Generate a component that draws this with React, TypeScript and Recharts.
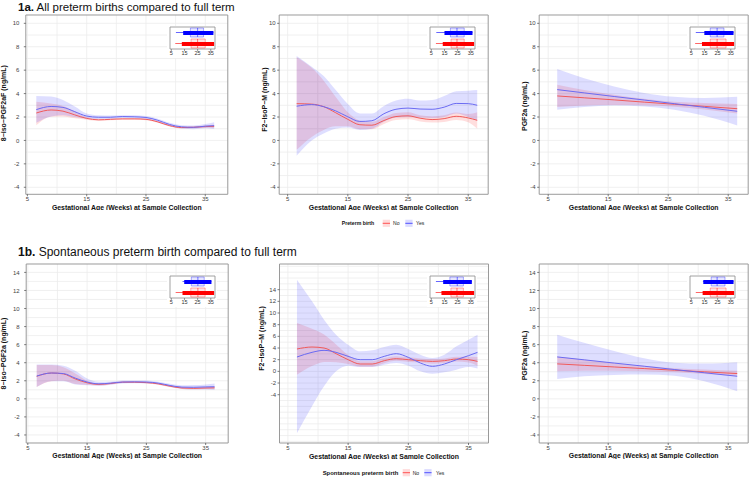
import React from 'react';
import { ComposedChart, Area, Line, XAxis, YAxis, CartesianGrid, ReferenceArea, Bar, Cell } from 'recharts';

const FONT = '"Liberation Sans", Arial, Helvetica, sans-serif';
const RED = '#f05a5a';
const BLUE = '#6a6af2';
const RED_FILL = '#ff0000';
const BLUE_FILL = '#0000ff';
const BAND_OP = 0.13;
const X_TITLE = 'Gestational Age (Weeks) at Sample Collection';

// ---------- data ----------
const agesSmooth = [6.5, 9, 11, 13, 15, 17, 19, 21, 23, 25, 27, 29, 31, 33, 35, 36.5];
const agesLinear = [6.5, 11, 16, 21, 26, 31, 36.5];

// 1a: 8-iso-PGF2aF
const p1NoMean = [2.34, 2.6, 2.5, 2.18, 1.88, 1.76, 1.8, 1.84, 1.84, 1.8, 1.58, 1.26, 1.1, 1.12, 1.18, 1.2];
const p1NoLo = [1.3, 2.02, 2.05, 1.9, 1.76, 1.66, 1.72, 1.76, 1.76, 1.72, 1.5, 1.18, 1.02, 1.04, 1.08, 1.06];
const p1NoHi = [3.3, 3.15, 2.95, 2.5, 2.0, 1.86, 1.88, 1.92, 1.92, 1.88, 1.66, 1.34, 1.18, 1.2, 1.28, 1.34];
const p1YesMean = [2.63, 2.9, 2.82, 2.45, 2.08, 1.98, 1.98, 2.04, 2.02, 1.96, 1.72, 1.36, 1.16, 1.12, 1.22, 1.26];
const p1YesLo = [1.5, 2.05, 2.15, 2.0, 1.86, 1.82, 1.84, 1.92, 1.9, 1.84, 1.58, 1.22, 1.02, 0.96, 1.04, 0.98];
const p1YesHi = [3.8, 3.75, 3.45, 2.9, 2.3, 2.14, 2.12, 2.16, 2.14, 2.08, 1.86, 1.5, 1.3, 1.28, 1.4, 1.55];

// 1a: F2-IsoP-M
const p2NoMean = [3.14, 3.1, 2.88, 2.36, 1.8, 1.34, 1.3, 1.7, 2.04, 2.1, 1.9, 1.78, 1.86, 2.06, 1.92, 1.72];
const p2NoLo = [-0.8, 0.3, 0.9, 1.2, 1.2, 0.95, 0.95, 1.4, 1.75, 1.8, 1.62, 1.52, 1.58, 1.75, 1.55, 1.0];
const p2NoHi = [7.1, 6.2, 5.1, 3.7, 2.4, 1.7, 1.6, 2.0, 2.35, 2.4, 2.15, 2.05, 2.15, 2.38, 2.25, 2.4];
const p2YesMean = [2.92, 3.06, 2.88, 2.52, 2.02, 1.62, 1.68, 2.28, 2.66, 2.76, 2.68, 2.66, 2.84, 3.16, 3.14, 3.0];
const p2YesLo = [-1.3, 0.0, 0.6, 1.0, 1.1, 0.9, 1.0, 1.6, 1.95, 2.0, 1.95, 1.9, 2.0, 2.3, 2.0, 1.7];
const p2YesHi = [7.2, 6.3, 5.5, 4.3, 3.1, 2.3, 2.3, 2.95, 3.4, 3.55, 3.4, 3.45, 3.8, 4.2, 4.25, 4.3];

// 1a: PGF2a
const p3NoMean = [3.8, 3.64, 3.46, 3.27, 3.09, 2.91, 2.71];
const p3NoLo = [2.85, 2.98, 3.02, 3.0, 2.88, 2.65, 2.3];
const p3NoHi = [4.75, 4.3, 3.9, 3.55, 3.3, 3.2, 3.12];
const p3YesMean = [4.34, 4.06, 3.75, 3.45, 3.14, 2.83, 2.49];
const p3YesLo = [2.62, 2.85, 2.98, 2.9, 2.62, 2.1, 1.28];
const p3YesHi = [6.1, 5.3, 4.6, 4.05, 3.72, 3.62, 3.72];

// 1b: 8-iso-PGF2a
const p4NoMean = [2.5, 2.86, 2.76, 2.2, 1.78, 1.6, 1.7, 1.84, 1.84, 1.8, 1.66, 1.4, 1.2, 1.16, 1.2, 1.22];
const p4NoLo = [1.3, 1.95, 2.0, 1.65, 1.56, 1.48, 1.6, 1.74, 1.74, 1.7, 1.56, 1.3, 1.1, 1.06, 1.1, 1.08];
const p4NoHi = [3.75, 3.75, 3.5, 2.8, 2.0, 1.72, 1.8, 1.94, 1.94, 1.9, 1.76, 1.5, 1.3, 1.26, 1.3, 1.36];
const p4YesMean = [2.52, 2.86, 2.8, 2.3, 1.86, 1.66, 1.74, 1.86, 1.88, 1.86, 1.74, 1.48, 1.3, 1.28, 1.32, 1.34];
const p4YesLo = [1.3, 1.95, 1.95, 1.6, 1.5, 1.45, 1.56, 1.7, 1.72, 1.7, 1.58, 1.3, 1.1, 1.04, 1.04, 0.98];
const p4YesHi = [3.8, 3.8, 3.65, 3.1, 2.25, 1.88, 1.92, 2.02, 2.04, 2.02, 1.9, 1.66, 1.5, 1.52, 1.6, 1.7];

// 1b: F2-IsoP-M
const p5NoMean = [3.83, 4.17, 4.0, 3.03, 2.0, 1.26, 1.26, 1.83, 2.17, 2.0, 1.83, 1.71, 1.83, 2.11, 2.0, 1.71];
const p5NoLo = [-0.57, 0.9, 1.6, 1.55, 1.25, 0.8, 0.8, 1.4, 1.8, 1.6, 1.5, 1.3, 1.45, 1.7, 1.5, 0.95];
const p5NoHi = [8.29, 7.3, 6.3, 4.6, 2.8, 1.75, 1.75, 2.3, 2.6, 2.4, 2.2, 2.1, 2.2, 2.5, 2.5, 2.45];
const p5YesMean = [2.46, 3.26, 3.6, 3.26, 2.57, 2.0, 2.0, 2.57, 3.03, 2.4, 1.43, 0.86, 1.26, 2.0, 2.69, 3.26];
const p5YesLo = [-10.6, -6.0, -2.57, 0.0, 0.97, 0.74, 0.74, 1.14, 1.43, 0.97, 0.0, -0.4, -0.17, 0.29, 0.74, 0.5];
const p5YesHi = [15.7, 12.0, 8.86, 6.29, 4.57, 3.43, 3.6, 4.17, 4.57, 3.83, 2.86, 2.29, 2.86, 4.29, 5.43, 6.29];

// 1b: PGF2a
const p6NoMean = [3.87, 3.71, 3.53, 3.35, 3.17, 2.99, 2.8];
const p6NoLo = [3.05, 3.1, 3.12, 3.05, 2.95, 2.75, 2.5];
const p6NoHi = [4.7, 4.35, 3.95, 3.65, 3.4, 3.25, 3.1];
const p6YesMean = [4.64, 4.32, 3.96, 3.61, 3.25, 2.89, 2.5];
const p6YesLo = [2.2, 2.5, 2.65, 2.7, 2.55, 1.95, 0.85];
const p6YesHi = [7.1, 6.2, 5.3, 4.5, 4.0, 3.9, 4.05];

// inset boxplots (gestational age at sample collection), rows: [Yes, No]
const insetGroups = ['Yes', 'No'];
const insetColors = ['#0000ff', '#ff0000'];
const p1InsetMin = [8.5, 8]; const p1InsetDense = [14, 13]; const p1InsetQ1 = [19.5, 20]; const p1InsetMed = [25, 25]; const p1InsetQ3 = [29.5, 30.8]; const p1InsetMax = [37, 37.5];
const p2InsetMin = [8.8, 8.5]; const p2InsetDense = [15, 13.7]; const p2InsetQ1 = [19.5, 20]; const p2InsetMed = [24.5, 24.5]; const p2InsetQ3 = [30, 30]; const p2InsetMax = [36.3, 37.5];
const p3InsetMin = [8.4, 7.9]; const p3InsetDense = [14.9, 13.1]; const p3InsetQ1 = [19.4, 19.4]; const p3InsetMed = [24.6, 24.6]; const p3InsetQ3 = [29.8, 31.4]; const p3InsetMax = [37.1, 37.5];
const p4InsetMin = [13.5, 8.3]; const p4InsetDense = [14.8, 13.5]; const p4InsetQ1 = [20.2, 19.8]; const p4InsetMed = [25.2, 25.2]; const p4InsetQ3 = [30, 30.7]; const p4InsetMax = [35.5, 37.5];
const p5InsetMin = [8.5, 8.3]; const p5InsetDense = [14, 12.7]; const p5InsetQ1 = [19.1, 19.9]; const p5InsetMed = [24.7, 24.5]; const p5InsetQ3 = [29.4, 29.4]; const p5InsetMax = [35.8, 37.5];
const p6InsetMin = [13.8, 8.4]; const p6InsetDense = [14.1, 13.6]; const p6InsetQ1 = [20.1, 19.4]; const p6InsetMed = [24.6, 24.6]; const p6InsetQ3 = [30.6, 31.4]; const p6InsetMax = [37.1, 37.5];

const xTicks = [5, 15, 25, 35];
const xGrid = [5, 10, 15, 20, 25, 30, 35];
const yTicksTop = [-4, -2, 0, 2, 4, 6, 8, 10];
const yTicksBottom = [-4, -2, 0, 2, 4, 6, 8, 10, 12, 14];
const insetTicks = [5, 15, 25, 35];
const insetDomain: [number, number] = [4, 38.2];

// ---------- builders ----------
function buildRows(ages: number[], noMean: number[], noLo: number[], noHi: number[], yesMean: number[], yesLo: number[], yesHi: number[]) {
  return ages.map((age, i) => ({
    age,
    noMean: noMean[i],
    noBand: [noLo[i], noHi[i]],
    yesMean: yesMean[i],
    yesBand: [yesLo[i], yesHi[i]],
  }));
}

function buildInset(mn: number[], dense: number[], q1: number[], med: number[], q3: number[], mx: number[]) {
  return insetGroups.map((g, i) => ({
    grp: g,
    whisker: [mn[i], mx[i]],
    dense: [dense[i], mx[i]],
    box: [q1[i], q3[i]],
    med: [med[i] - 0.35, med[i] + 0.35],
  }));
}

function intRange(lo: number, hi: number) {
  const out: number[] = [];
  for (let v = Math.ceil(lo); v <= Math.floor(hi); v++) out.push(v);
  return out;
}

type PlotRect = { x: number; y: number; w: number; h: number };

function Inset({ plot, data }: { plot: PlotRect; data: any[] }) {
  const W = 45, H = 22, XH = 9, ML = 3, MR = 2, MT = 1;
  const left = plot.x + plot.w - 13 - W - ML;
  const top = plot.y + 12 - MT;
  const axes = ['w', 'd', 'b', 'm'];
  return (
    <div style={{ position: 'absolute', left, top, background: '#fff' }}>
      <ComposedChart layout="vertical" width={ML + W + MR} height={MT + H + XH} data={data} margin={{ top: MT, right: MR, left: ML, bottom: 0 }}>
        <XAxis type="number" domain={insetDomain} ticks={insetTicks} allowDataOverflow height={XH} axisLine={false} tickSize={2} tickMargin={0.5} interval={0}
          tickLine={{ stroke: '#555', strokeWidth: 0.6 }} tick={{ fontSize: 5.5, fill: '#333', fontFamily: FONT }} />
        {axes.map((a) => (
          <YAxis key={a} yAxisId={a} type="category" dataKey="grp" hide />
        ))}
        <Bar yAxisId="w" dataKey="whisker" barSize={1} isAnimationActive={false}>
          {data.map((d, i) => <Cell key={i} fill={insetColors[i]} fillOpacity={0.6} />)}
        </Bar>
        <Bar yAxisId="b" dataKey="box" barSize={9} isAnimationActive={false}>
          {data.map((d, i) => <Cell key={i} fill={insetColors[i]} fillOpacity={0.1} stroke={insetColors[i]} strokeOpacity={0.45} strokeWidth={0.7} />)}
        </Bar>
        <Bar yAxisId="d" dataKey="dense" barSize={4} isAnimationActive={false}>
          {data.map((d, i) => <Cell key={i} fill={insetColors[i]} />)}
        </Bar>
        <Bar yAxisId="m" dataKey="med" barSize={9} isAnimationActive={false}>
          {data.map((d, i) => <Cell key={i} fill={insetColors[i]} fillOpacity={0.55} />)}
        </Bar>
        <ReferenceArea yAxisId="w" x1={insetDomain[0]} x2={insetDomain[1]} fill="none" stroke="#8a8a8a" strokeWidth={0.8} ifOverflow="visible" />
      </ComposedChart>
    </div>
  );
}

type PanelProps = {
  plot: PlotRect;
  xDomain: [number, number];
  yDomain: [number, number];
  yTicks: number[];
  yLabel: string;
  titleDx: number;
  titleDy: number;
  tickMargin: number;
  rows: any[];
  inset: any[];
};

function Panel({ plot, xDomain, yDomain, yTicks, yLabel, titleDx, titleDy, tickMargin, rows, inset }: PanelProps) {
  const MT = 1, MR = 1, XH = 15.5;
  const LBL_OFF = 5;
  const yw = titleDx + LBL_OFF;
  const width = yw + plot.w + MR;
  const height = MT + plot.h + XH;
  return (
    <>
      <div style={{ position: 'absolute', left: plot.x - yw, top: plot.y - MT }}>
        <ComposedChart width={width} height={height} data={rows} margin={{ top: MT, right: MR, left: 0, bottom: 0 }}>
          <CartesianGrid stroke="#ececec" strokeWidth={0.8} horizontalValues={intRange(yDomain[0], yDomain[1])} verticalValues={xGrid} />
          <XAxis type="number" dataKey="age" domain={xDomain} ticks={xTicks} allowDataOverflow height={XH} axisLine={false}
            tickSize={2} tickMargin={0.8} interval={0}
            tickLine={{ stroke: '#444', strokeWidth: 0.7 }} tick={{ fontSize: 6, fill: '#444', fontFamily: FONT }}
            label={{ value: X_TITLE, position: 'insideBottom', offset: 0, fontSize: 6.9, fontWeight: 700, fill: '#111', fontFamily: FONT }} />
          <YAxis type="number" domain={yDomain} ticks={yTicks} allowDataOverflow width={yw} axisLine={false}
            tickSize={2} tickMargin={tickMargin} interval={0}
            tickLine={{ stroke: '#444', strokeWidth: 0.7 }} tick={{ fontSize: 6, fill: '#444', fontFamily: FONT }}
            label={{ value: yLabel, angle: -90, position: 'insideLeft', offset: LBL_OFF, dy: titleDy, fontSize: 7, fontWeight: 700, fill: '#111', fontFamily: FONT, style: { textAnchor: 'middle' } }} />
          <Area dataKey="noBand" type="monotone" stroke="none" fill={RED_FILL} fillOpacity={BAND_OP} isAnimationActive={false} />
          <Area dataKey="yesBand" type="monotone" stroke="none" fill={BLUE_FILL} fillOpacity={BAND_OP} isAnimationActive={false} />
          <Line dataKey="noMean" type="monotone" stroke={RED} strokeWidth={1} dot={false} isAnimationActive={false} />
          <Line dataKey="yesMean" type="monotone" stroke={BLUE} strokeWidth={1} dot={false} isAnimationActive={false} />
          <ReferenceArea x1={xDomain[0]} x2={xDomain[1]} y1={yDomain[0]} y2={yDomain[1]} fill="none" stroke="#9a9a9a" strokeWidth={1} ifOverflow="visible" />
        </ComposedChart>
      </div>
      <Inset plot={plot} data={inset} />
    </>
  );
}

const rowsP1 = buildRows(agesSmooth, p1NoMean, p1NoLo, p1NoHi, p1YesMean, p1YesLo, p1YesHi);
const rowsP2 = buildRows(agesSmooth, p2NoMean, p2NoLo, p2NoHi, p2YesMean, p2YesLo, p2YesHi);
const rowsP3 = buildRows(agesLinear, p3NoMean, p3NoLo, p3NoHi, p3YesMean, p3YesLo, p3YesHi);
const rowsP4 = buildRows(agesSmooth, p4NoMean, p4NoLo, p4NoHi, p4YesMean, p4YesLo, p4YesHi);
const rowsP5 = buildRows(agesSmooth, p5NoMean, p5NoLo, p5NoHi, p5YesMean, p5YesLo, p5YesHi);
const rowsP6 = buildRows(agesLinear, p6NoMean, p6NoLo, p6NoHi, p6YesMean, p6YesLo, p6YesHi);

const panels: PanelProps[] = [
  { plot: { x: 25.7, y: 15, w: 202, h: 179.3 }, xDomain: [4.73, 38.8], yDomain: [-4.6, 10.71], yTicks: yTicksTop, yLabel: '8−iso−PGF2aF (ng/mL)', titleDx: 21.8, titleDy: -1.5, tickMargin: 4.5, rows: rowsP1, inset: buildInset(p1InsetMin, p1InsetDense, p1InsetQ1, p1InsetMed, p1InsetQ3, p1InsetMax) },
  { plot: { x: 279.3, y: 15, w: 209, h: 179.3 }, xDomain: [3.6, 38.32], yDomain: [-4.6, 10.71], yTicks: yTicksTop, yLabel: 'F2−IsoP−M (ng/mL)', titleDx: 14.2, titleDy: -5, tickMargin: 1.5, rows: rowsP2, inset: buildInset(p2InsetMin, p2InsetDense, p2InsetQ1, p2InsetMed, p2InsetQ3, p2InsetMax) },
  { plot: { x: 539.3, y: 15, w: 209, h: 179.3 }, xDomain: [3.5, 38.33], yDomain: [-4.6, 10.71], yTicks: yTicksTop, yLabel: 'PGF2a (ng/mL)', titleDx: 14.2, titleDy: 1.5, tickMargin: 1.5, rows: rowsP3, inset: buildInset(p3InsetMin, p3InsetDense, p3InsetQ1, p3InsetMed, p3InsetQ3, p3InsetMax) },
  { plot: { x: 25.7, y: 264.3, w: 202, h: 179 }, xDomain: [4.73, 38.8], yDomain: [-4.89, 14.93], yTicks: yTicksBottom, yLabel: '8−iso−PGF2a (ng/mL)', titleDx: 22.2, titleDy: 0, tickMargin: 4.5, rows: rowsP4, inset: buildInset(p4InsetMin, p4InsetDense, p4InsetQ1, p4InsetMed, p4InsetQ3, p4InsetMax) },
  { plot: { x: 279.3, y: 264.3, w: 209, h: 179 }, xDomain: [3.6, 38.32], yDomain: [-12.28, 18.4], yTicks: yTicksBottom, yLabel: 'F2−IsoP−M (ng/mL)', titleDx: 17.5, titleDy: -15, tickMargin: 1.5, rows: rowsP5, inset: buildInset(p5InsetMin, p5InsetDense, p5InsetQ1, p5InsetMed, p5InsetQ3, p5InsetMax) },
  { plot: { x: 539.3, y: 264.3, w: 209, h: 179 }, xDomain: [3.5, 38.33], yDomain: [-4.89, 14.93], yTicks: yTicksBottom, yLabel: 'PGF2a (ng/mL)', titleDx: 14.2, titleDy: 2, tickMargin: 1.5, rows: rowsP6, inset: buildInset(p6InsetMin, p6InsetDense, p6InsetQ1, p6InsetMed, p6InsetQ3, p6InsetMax) },
];

function LegendKey({ x, cy, color }: { x: number; cy: number; color: string }) {
  return (
    <g>
      <rect x={x} y={cy - 3.6} width={7.3} height={7.2} fill={color} fillOpacity={0.14} />
      <line x1={x} x2={x + 7.3} y1={cy} y2={cy} stroke={color} strokeWidth={0.9} strokeOpacity={0.7} />
    </g>
  );
}

export default function App() {
  return (
    <div style={{ position: 'absolute', left: 0, top: 0, width: 750, height: 477, background: '#fff', overflow: 'hidden' }}>
      {panels.map((p, i) => (
        <Panel key={i} {...p} />
      ))}
      <svg width={750} height={477} style={{ position: 'absolute', left: 0, top: 0, pointerEvents: 'none' }} fontFamily={FONT}>
        <text x={18} y={10.5} fontSize={11.5} fill="#111">
          <tspan fontWeight="bold">1a.</tspan> All preterm births compared to full term
        </text>
        <text x={18} y={256} fontSize={12} fill="#111">
          <tspan fontWeight="bold">1b.</tspan> Spontaneous preterm birth compared to full term
        </text>
        <text x={341.7} y={225} fontSize={5.2} fontWeight="bold" fill="#111">Preterm birth</text>
        <LegendKey x={382.7} cy={223.3} color={RED_FILL} />
        <text x={393} y={225} fontSize={5.1} fill="#222">No</text>
        <LegendKey x={405.3} cy={223.3} color={BLUE_FILL} />
        <text x={416} y={225} fontSize={5.1} fill="#222">Yes</text>
        <text x={322.7} y={474.8} fontSize={5.9} fontWeight="bold" fill="#111">Spontaneous preterm birth</text>
        <LegendKey x={402.7} cy={472.7} color={RED_FILL} />
        <text x={412.7} y={474.8} fontSize={5.1} fill="#222">No</text>
        <LegendKey x={424.3} cy={472.7} color={BLUE_FILL} />
        <text x={436} y={474.8} fontSize={5.1} fill="#222">Yes</text>
      </svg>
    </div>
  );
}
